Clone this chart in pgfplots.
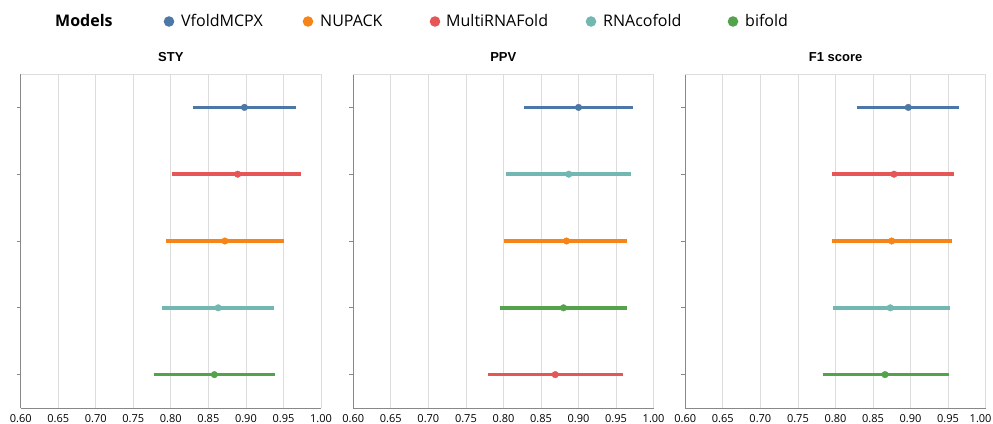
\documentclass[border=0pt]{standalone}
\usepackage{pgfplots}
\pgfplotsset{compat=1.18}
\usepackage{fontspec}
\setmainfont{Open Sans}
\newfontfamily\arialfont{Liberation Sans}
\definecolor{cBlue}{HTML}{4C78A8}
\definecolor{cOrange}{HTML}{F58518}
\definecolor{cRed}{HTML}{E45756}
\definecolor{cTeal}{HTML}{72B7B2}
\definecolor{cGreen}{HTML}{54A24B}
\definecolor{gridc}{HTML}{DDDDDD}
\definecolor{domc}{HTML}{888888}
\pgfplotsset{
  panel/.style={
    scale only axis, width=300.3pt, height=334pt, anchor=south west,
    xmin=0.6, xmax=1.0, ymin=0.5, ymax=5.5,
    xtick={0.6,0.65,0.7,0.75,0.8,0.85,0.9,0.95,1.0},
    xticklabel style={font=\fontsize{11}{11}\selectfont, text=black, anchor=north, inner sep=0pt, yshift=-2pt,
      /pgf/number format/fixed, /pgf/number format/fixed zerofill,
      /pgf/number format/precision=2, /pgf/number format/assume math mode=true},
    ytick={1,2,3,4,5}, yticklabels={},
    xmajorgrids, major grid style={gridc, line width=0.8pt},
    axis x line*=bottom, axis y line*=left,
    axis line style={domc, line width=1pt, -},
    tick align=outside, major tick length=4pt,
    xtick style={draw=none}, ytick style={domc, line width=0.8pt},
    clip=false,
    after end axis/.code={\draw[gridc, line width=0.8pt] (rel axis cs:0,1) -- (rel axis cs:1,1);},
  },
  row/.style={only marks, mark=*, mark size=3.3pt, color=#1, mark options={solid, fill=#1, draw=#1},
    error bars/.cd, x dir=both, x explicit, error mark=none,
    error bar style={line width=3.6pt, color=#1}},
}
\begin{document}
\begin{tikzpicture}
\useasboundingbox (0pt,0pt) rectangle (993pt,-423pt);
% legend
\node[font=\bfseries\fontsize{16}{16}\selectfont, anchor=base west, inner sep=0pt] at (55pt,-27pt) {Models};
\fill[cBlue] (169pt,-21.5pt) circle (5.3pt);
\node[font=\fontsize{16}{16}\selectfont, anchor=base west, inner sep=0pt] at (181pt,-27pt) {VfoldMCPX};
\fill[cOrange] (308pt,-21.5pt) circle (5.3pt);
\node[font=\fontsize{16}{16}\selectfont, anchor=base west, inner sep=0pt] at (320pt,-27pt) {NUPACK};
\fill[cRed] (435pt,-21.5pt) circle (5.3pt);
\node[font=\fontsize{16}{16}\selectfont, anchor=base west, inner sep=0pt] at (446pt,-27pt) {MultiRNAFold};
\fill[cTeal] (591pt,-21.5pt) circle (5.3pt);
\node[font=\fontsize{16}{16}\selectfont, anchor=base west, inner sep=0pt] at (603pt,-27pt) {RNAcofold};
\fill[cGreen] (733pt,-21.5pt) circle (5.3pt);
\node[font=\fontsize{16}{16}\selectfont, anchor=base west, inner sep=0pt] at (745pt,-27pt) {bifold};
% titles
\node[font=\arialfont\bfseries\fontsize{13}{13}\selectfont, anchor=base] at (170.85pt,-61.5pt) {STY};
\node[font=\arialfont\bfseries\fontsize{13}{13}\selectfont, anchor=base] at (503.3pt,-61.5pt) {PPV};
\node[font=\arialfont\bfseries\fontsize{13}{13}\selectfont, anchor=base] at (835.65pt,-61.5pt) {F1 score};
% STY
\begin{axis}[panel, at={(20.7pt,-408pt)}]
\addplot[row=cBlue]   coordinates {(0.898,5) += (0.069,0) -= (0.068,0)};
\addplot[row=cRed]    coordinates {(0.889,4) += (0.084,0) -= (0.088,0)};
\addplot[row=cOrange] coordinates {(0.872,3) += (0.079,0) -= (0.079,0)};
\addplot[row=cTeal]   coordinates {(0.863,2) += (0.074,0) -= (0.075,0)};
\addplot[row=cGreen]  coordinates {(0.858,1) += (0.081,0) -= (0.080,0)};
\end{axis}
% PPV
\begin{axis}[panel, at={(353.3pt,-408pt)}]
\addplot[row=cBlue]   coordinates {(0.900,5) += (0.072,0) -= (0.072,0)};
\addplot[row=cTeal]   coordinates {(0.887,4) += (0.083,0) -= (0.083,0)};
\addplot[row=cOrange] coordinates {(0.884,3) += (0.081,0) -= (0.083,0)};
\addplot[row=cGreen]  coordinates {(0.880,2) += (0.084,0) -= (0.084,0)};
\addplot[row=cRed]    coordinates {(0.869,1) += (0.090,0) -= (0.089,0)};
\end{axis}
% F1 score
\begin{axis}[panel, at={(685.3pt,-408pt)},
  xtick={0.6,0.65,0.7,0.75,0.8,0.85,0.9,0.95},
  extra x ticks={1.0},
  extra x tick style={grid=major, xticklabel style={xshift=-5pt}}]
\addplot[row=cBlue]   coordinates {(0.897,5) += (0.068,0) -= (0.068,0)};
\addplot[row=cRed]    coordinates {(0.878,4) += (0.080,0) -= (0.082,0)};
\addplot[row=cOrange] coordinates {(0.875,3) += (0.080,0) -= (0.079,0)};
\addplot[row=cTeal]   coordinates {(0.873,2) += (0.079,0) -= (0.076,0)};
\addplot[row=cGreen]  coordinates {(0.866,1) += (0.085,0) -= (0.083,0)};
\end{axis}
\end{tikzpicture}
\end{document}
